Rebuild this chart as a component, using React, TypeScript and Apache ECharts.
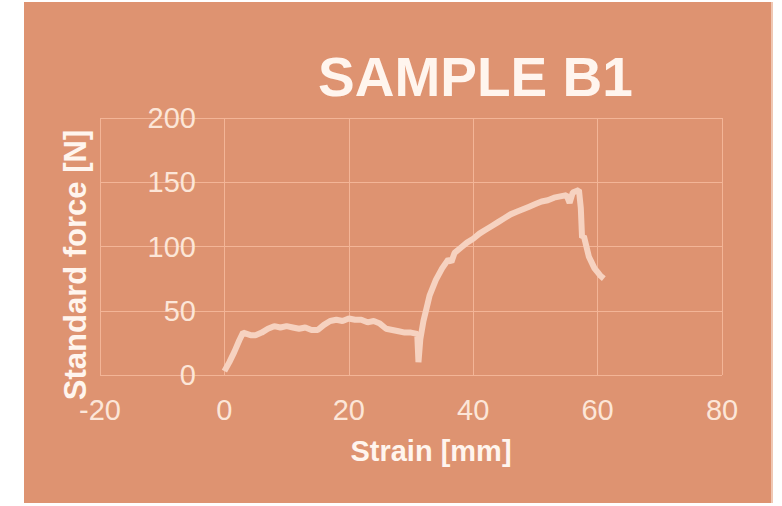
import React, { useEffect, useRef } from "react";
import * as echarts from "echarts";

const chartTitle = "SAMPLE B1";
const xAxisTitle = "Strain [mm]";
const yAxisTitle = "Standard force [N]";

const strain = [
  0, 0.8, 1.6, 2.4, 3.0, 3.6, 4.2, 5.0, 6.0, 7.0, 8.0, 9.0, 10.0, 11.0, 12.0, 13.0, 14.0,
  15.0, 16.0, 17.0, 18.0, 19.0, 20.0, 21.0, 22.0, 23.0, 24.0, 25.0, 26.0, 27.0, 28.0, 29.0,
  30.0, 31.0, 31.2, 31.5, 32.0, 32.5, 33.0, 34.0, 35.0, 36.0, 36.5, 37.0, 38.0, 39.0, 40.0,
  41.0, 42.0, 43.0, 44.0, 45.0, 46.0, 47.0, 48.0, 49.0, 50.0, 51.0, 52.0, 53.0, 54.0, 55.0,
  55.5, 56.0, 57.0, 57.3, 57.5, 57.8, 58.2, 58.6, 59.0, 59.5, 60.0, 60.5, 61.0,
];
const force = [
  3, 10, 18, 27, 33, 32, 31, 31, 33, 36, 38, 37, 38, 37, 36, 37, 35,
  35, 39, 42, 43, 42, 44, 43, 43, 41, 42, 40, 36, 35, 34, 33,
  33, 32, 10, 28, 42, 52, 62, 74, 83, 90, 88, 95, 99, 103, 106,
  110, 113, 116, 119, 122, 125, 127, 129, 131, 133, 135, 136, 138, 139, 140,
  134, 142, 144, 130, 107, 108, 100, 92, 88, 83, 80, 77, 75,
];

const xTicks = { min: -20, max: 80, interval: 20 };
const yTicks = { min: 0, max: 200, interval: 50 };

export default function App() {
  const ref = useRef<HTMLDivElement>(null);
  useEffect(() => {
    if (!ref.current) return;
    const chart = echarts.init(ref.current, null, { renderer: "svg" });
    const gridColor = "#F3B597";
    const labelColor = "#FCE6D8";
    const font = "'Liberation Sans', Arial, sans-serif";
    chart.setOption({
      animation: false,
      backgroundColor: "transparent",
      title: {
        text: chartTitle,
        left: 313,
        top: 44,
        textStyle: { fontFamily: font, fontSize: 55, fontWeight: "bold", color: "#FFF5EE" },
      },
      grid: { left: 100, top: 118, width: 622, height: 257, containLabel: false },
      xAxis: {
        type: "value",
        min: xTicks.min,
        max: xTicks.max,
        interval: xTicks.interval,
        axisLine: { show: false },
        axisTick: { show: false },
        splitLine: { show: true, lineStyle: { color: gridColor, width: 1 } },
        axisLabel: { color: labelColor, fontFamily: font, fontSize: 29, margin: 20 },
      },
      yAxis: {
        type: "value",
        min: yTicks.min,
        max: yTicks.max,
        interval: yTicks.interval,
        offset: -125,
        axisLine: { show: false, onZero: false },
        axisTick: { show: false },
        splitLine: { show: true, lineStyle: { color: gridColor, width: 1 } },
        axisLabel: { color: labelColor, fontFamily: font, fontSize: 29, margin: 29, padding: [0, 0, 6, 0] },
      },
      graphic: [
        {
          type: "text",
          x: 431,
          y: 451,
          style: {
            text: xAxisTitle,
            font: `bold 29px ${font}`,
            fill: "#FFF5EE",
            textAlign: "center",
            textVerticalAlign: "middle",
          },
        },
        {
          type: "text",
          x: 75,
          y: 265,
          rotation: Math.PI / 2,
          style: {
            text: yAxisTitle,
            font: `bold 31px ${font}`,
            fill: "#FFF5EE",
            textAlign: "center",
            textVerticalAlign: "middle",
          },
        },
      ],
      series: [
        {
          type: "line",
          data: strain.map((s, i) => [s, force[i]]),
          showSymbol: false,
          symbol: "none",
          lineStyle: { color: "#F6D2C0", width: 6 },
          z: 3,
        },
      ],
    });
    return () => chart.dispose();
  }, []);
  return (
    <div style={{ position: "fixed", left: 0, top: 0, width: 782, height: 506, background: "#ffffff" }}>
      <div
        style={{
          position: "absolute",
          left: 24,
          top: 2,
          width: 747,
          height: 501,
          background: "#DE9371",
          borderRight: "2px solid #F0C8B4",
        }}
      />
      <div ref={ref} style={{ position: "absolute", left: 0, top: 0, width: 782, height: 506 }} />
    </div>
  );
}
